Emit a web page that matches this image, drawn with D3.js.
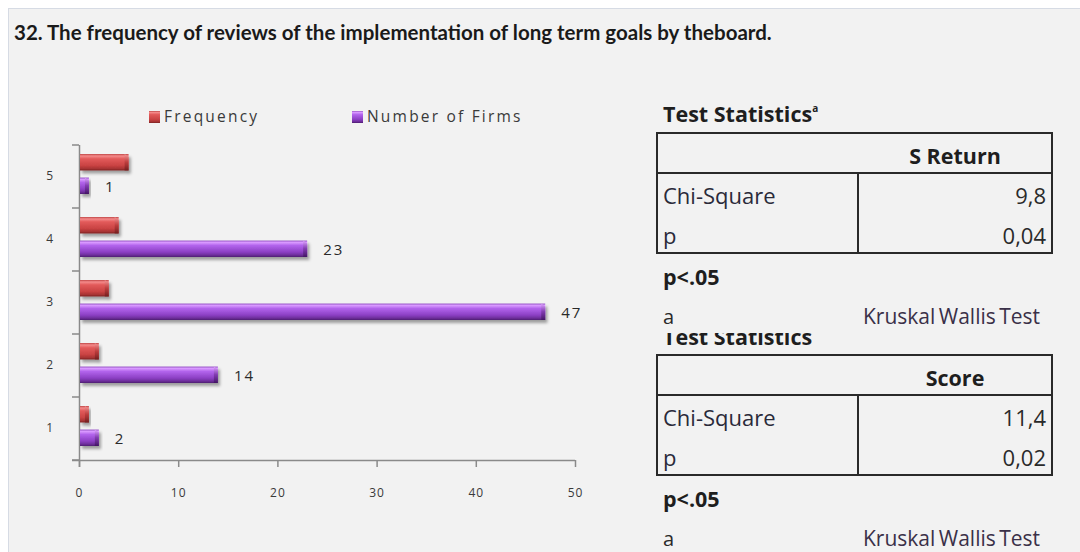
<!DOCTYPE html>
<html>
<head>
<meta charset="utf-8">
<script src="https://cdn.jsdelivr.net/npm/d3@7"></script>
<style>
  html, body { margin: 0; padding: 0; background: #ffffff; }
  svg { display: block; }
</style>
</head>
<body>
<svg id="chart"></svg>
<script>
// chart data
var categories = ['1', '2', '3', '4', '5'];
var seriesNames = ['Frequency', 'Number of Firms'];
var frequency = [1, 2, 3, 4, 5];
var firms = [2, 14, 47, 23, 1];
var xTicks = [0, 10, 20, 30, 40, 50];

// tables on the right
var table1Header = 'S Return';
var table1Rows = [['Chi-Square', '9,8'], ['p', '0,04']];
var table2Header = 'Score';
var table2Rows = [['Chi-Square', '11,4'], ['p', '0,02']];

var W = 1080, H = 552;
var svg = d3.select('#chart').attr('width', W).attr('height', H);
var defs = svg.append('defs');

// gradients for the bevelled bars
function barGradient(id, stops) {
  var g = defs.append('linearGradient').attr('id', id)
    .attr('x1', 0).attr('y1', 0).attr('x2', 0).attr('y2', 1);
  stops.forEach(function(s) {
    g.append('stop').attr('offset', s[0]).attr('stop-color', s[1]);
  });
}
barGradient('gRed', [[0, '#c04848'], [0.12, '#f48a8a'], [0.3, '#e25a5a'], [0.7, '#c94343'], [0.88, '#a83434'], [1, '#7e2424']]);
barGradient('gPurple', [[0, '#9a58c8'], [0.12, '#d898ff'], [0.3, '#b264ec'], [0.7, '#8c40c4'], [0.88, '#6e2e9c'], [1, '#4e1c70']]);
barGradient('gRedEnd', [[0, '#f49a9a'], [0.5, '#b83a3a'], [1, '#6e1e1e']]);
barGradient('gPurpleEnd', [[0, '#e0a8ff'], [0.5, '#7a36a8'], [1, '#401660']]);

var shadow = defs.append('filter').attr('id', 'shadow')
  .attr('x', '-10%').attr('y', '-40%').attr('width', '130%').attr('height', '200%');
shadow.append('feDropShadow').attr('dx', 2).attr('dy', 3).attr('stdDeviation', 1.6)
  .attr('flood-color', '#000').attr('flood-opacity', 0.35);

defs.append('clipPath').attr('id', 'cutTitle')
  .append('rect').attr('x', 640).attr('y', 333).attr('width', 300).attr('height', 20);

// panel
svg.append('rect').attr('width', W).attr('height', H).attr('fill', '#ffffff');
svg.append('rect').attr('x', 8.5).attr('y', 8.5).attr('width', W).attr('height', H)
  .attr('fill', '#f2f2f2').attr('stroke', '#d6dbe4').attr('stroke-width', 1);

svg.append('text').attr('x', 14).attr('y', 40)
  .attr('font-family', 'Lato, sans-serif').attr('font-weight', 700).attr('font-size', 20.5)
  .attr('fill', '#1a1a1a')
  .text('32. The frequency of reviews of the implementation of long term goals by theboard.');

// bar chart
var x = d3.scaleLinear().domain([0, 50]).range([79, 575]);
var y = d3.scaleBand().domain(categories.slice().reverse()).range([145, 460]);
var ySeries = d3.scaleBand().domain(seriesNames).range([9, 49]).paddingInner(0.3);
var colors = { 'Frequency': 'Red', 'Number of Firms': 'Purple' };

var rows = categories.map(function(c, i) {
  return { cat: c, values: [
    { name: 'Frequency', value: frequency[i] },
    { name: 'Number of Firms', value: firms[i] }
  ] };
});

var axisColor = '#8a8a8a';
var xAxis = svg.append('g').attr('transform', 'translate(0,460)')
  .call(d3.axisBottom(x).tickValues(xTicks).tickSize(7).tickPadding(21).tickSizeOuter(0));
xAxis.select('.domain').attr('d', 'M72,0.5H575').attr('stroke', axisColor).attr('stroke-width', 1.5);
xAxis.selectAll('.tick line').attr('stroke', axisColor).attr('stroke-width', 1.5);

var yAxis = svg.append('g').attr('transform', 'translate(79,0)')
  .call(d3.axisLeft(y).tickSize(0).tickPadding(25));
yAxis.select('.domain').attr('d', 'M0.5,145V467').attr('stroke', axisColor).attr('stroke-width', 1.5);
svg.append('g').selectAll('line').data(categories.concat(['top'])).join('line')
  .attr('x1', 72).attr('x2', 79)
  .attr('y1', function(d) { return d === 'top' ? y.range()[0] : y(d) + y.bandwidth(); })
  .attr('y2', function(d) { return d === 'top' ? y.range()[0] : y(d) + y.bandwidth(); })
  .attr('stroke', axisColor).attr('stroke-width', 1.5);

svg.selectAll('.tick text').attr('font-family', 'Open Sans, sans-serif').attr('font-size', 12)
  .attr('letter-spacing', 1).attr('fill', '#3a3a3a');

var groups = svg.append('g').selectAll('g').data(rows).join('g')
  .attr('transform', function(d) { return 'translate(0,' + y(d.cat) + ')'; });

var bars = groups.selectAll('g').data(function(d) { return d.values; }).join('g')
  .attr('filter', 'url(#shadow)');
bars.append('rect')
  .attr('x', x(0) + 1)
  .attr('y', function(d) { return ySeries(d.name); })
  .attr('width', function(d) { return x(d.value) - x(0) - 1; })
  .attr('height', ySeries.bandwidth())
  .attr('fill', function(d) { return 'url(#g' + colors[d.name] + ')'; });
// bevelled right end
bars.append('path')
  .attr('d', function(d) {
    var x1 = x(d.value), y0 = ySeries(d.name), h = ySeries.bandwidth();
    return 'M' + (x1 - 4) + ',' + y0 + 'L' + x1 + ',' + (y0 + 3) + 'L' + x1 + ',' + (y0 + h) +
      'L' + (x1 - 4) + ',' + (y0 + h) + 'Z';
  })
  .attr('fill', function(d) { return 'url(#g' + colors[d.name] + 'End)'; })
  .attr('opacity', 0.85);

groups.append('text')
  .attr('x', function(d) { return x(d.values[1].value) + 16; })
  .attr('y', ySeries('Number of Firms') + ySeries.bandwidth() / 2 + 6)
  .attr('font-family', 'Open Sans, sans-serif').attr('font-size', 15)
  .attr('letter-spacing', 2).attr('fill', '#2a2a2a')
  .text(function(d) { return d.values[1].value; });

// legend
var legend = svg.append('g').selectAll('g').data(seriesNames).join('g')
  .attr('transform', function(d, i) { return 'translate(' + [149, 352][i] + ',111)'; });
legend.append('rect').attr('width', 11).attr('height', 12)
  .attr('fill', function(d) { return 'url(#g' + colors[d] + ')'; });
legend.append('text').attr('x', 15).attr('y', 11)
  .attr('font-family', 'Open Sans, sans-serif').attr('font-size', 15.5)
  .attr('letter-spacing', 2.2).attr('fill', '#3a3a3a')
  .text(function(d) { return d; });

// statistics tables
var font = 'Open Sans, sans-serif';
function statsTable(top, header, rowsData) {
  var g = svg.append('g');
  var left = 657, right = 1052, mid = 858, headH = 40, rowH = 40;
  var bottom = top + headH + rowH * 2;
  g.append('rect').attr('x', left).attr('y', top).attr('width', right - left).attr('height', bottom - top)
    .attr('fill', 'none').attr('stroke', '#2a2a2a').attr('stroke-width', 2);
  g.append('line').attr('x1', left).attr('x2', right).attr('y1', top + headH).attr('y2', top + headH)
    .attr('stroke', '#2a2a2a').attr('stroke-width', 2);
  g.append('line').attr('x1', mid).attr('x2', mid).attr('y1', top + headH).attr('y2', bottom)
    .attr('stroke', '#2a2a2a').attr('stroke-width', 2);
  g.append('text').attr('x', 955).attr('y', top + 31).attr('text-anchor', 'middle')
    .attr('font-family', font).attr('font-weight', 700).attr('font-size', 21.5).attr('fill', '#1e1e1e')
    .text(header);
  g.selectAll('.lab').data(rowsData).join('text')
    .attr('x', 663).attr('y', function(d, i) { return top + headH + 31 + i * rowH; })
    .attr('font-family', font).attr('font-size', 22).attr('fill', '#2a2a3a')
    .text(function(d) { return d[0]; });
  g.selectAll('.val').data(rowsData).join('text')
    .attr('x', 1046).attr('y', function(d, i) { return top + headH + 31 + i * rowH; })
    .attr('text-anchor', 'end')
    .attr('font-family', font).attr('font-size', 22).attr('fill', '#2a2a2a')
    .text(function(d) { return d[1]; });
  g.append('text').attr('x', 663).attr('y', bottom + 32)
    .attr('font-family', font).attr('font-weight', 700).attr('font-size', 21.5).attr('fill', '#1e1e1e')
    .text('p<.05');
  g.append('text').attr('x', 663).attr('y', bottom + 71)
    .attr('font-family', font).attr('font-size', 20).attr('fill', '#2a2a2a').text('a');
  g.append('text').attr('x', 863).attr('y', bottom + 71)
    .attr('font-family', font).attr('font-size', 21).attr('fill', '#3a3048').attr('word-spacing', -2)
    .text('Kruskal Wallis Test');
}

var t1 = svg.append('text').attr('x', 663).attr('y', 122)
  .attr('font-family', font).attr('font-weight', 700).attr('font-size', 21.5).attr('fill', '#1e1e1e');
t1.append('tspan').text('Test Statistics');
t1.append('tspan').attr('font-size', 10).attr('dy', -10).text('a');

statsTable(133, table1Header, table1Rows);

// second heading is partly hidden behind the footnote line
svg.append('text').attr('x', 663).attr('y', 345).attr('clip-path', 'url(#cutTitle)')
  .attr('font-family', font).attr('font-weight', 700).attr('font-size', 21.5).attr('fill', '#1e1e1e')
  .text('Test Statistics');

statsTable(355, table2Header, table2Rows);
</script>
</body>
</html>
